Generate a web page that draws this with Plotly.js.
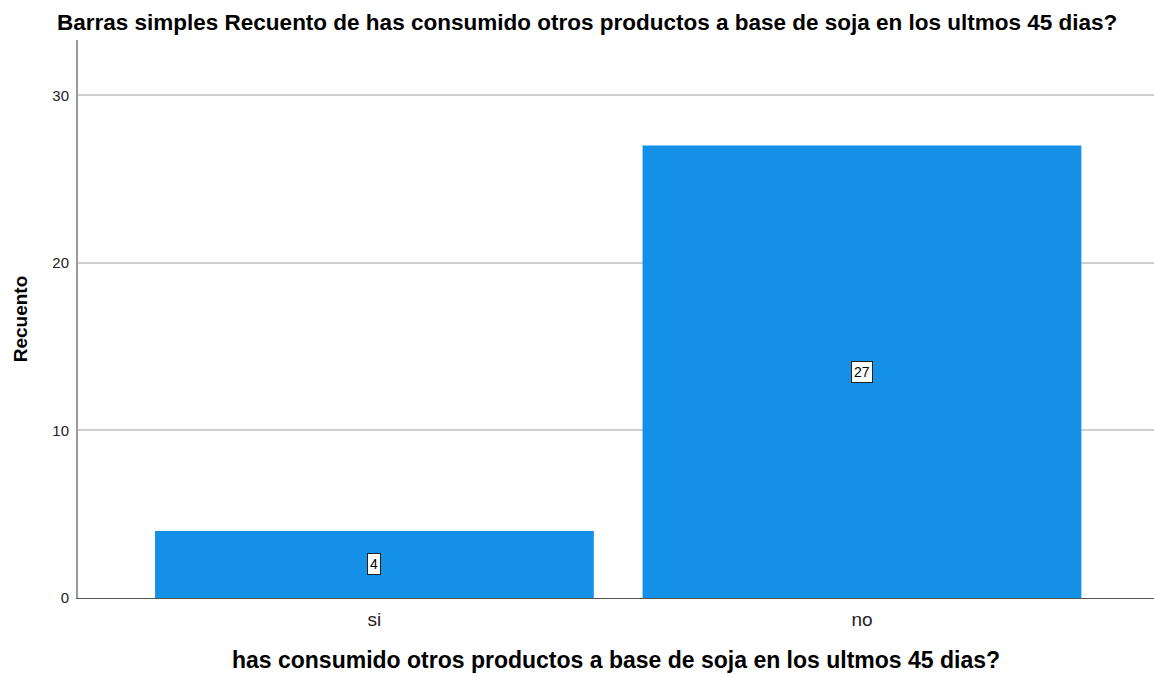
<!DOCTYPE html>
<html>
<head>
<meta charset="utf-8">
<script src="https://cdn.plot.ly/plotly-3.0.1.min.js"></script>
<style>html,body{margin:0;padding:0;background:#fff;}#chart{width:1154px;height:677px;}</style>
</head>
<body>
<div id="chart"></div>
<script>
const categories = ["si", "no"];
const counts = [4, 27];
const yTicks = [0, 10, 20, 30];

const trace = {
  type: "bar",
  x: [0, 1],
  y: counts,
  width: 0.9,
  marker: {color: "#1490E6", line: {width: 0}},
  hoverinfo: "x+y"
};

const annotations = counts.map((v, i) => ({
  x: i, y: v / 2, xref: "x", yref: "y",
  text: String(v), showarrow: false,
  font: {family: "Liberation Sans, Arial, sans-serif", size: 14, color: "#000"},
  bgcolor: "#ffffff", bordercolor: "#222", borderwidth: 1, borderpad: 2
}));

const layout = {
  width: 1154, height: 677,
  margin: {l: 78, r: 0, t: 40, b: 79},
  paper_bgcolor: "#fff", plot_bgcolor: "#fff",
  showlegend: false,
  font: {family: "Liberation Sans, Arial, sans-serif", color: "#000"},
  title: {
    text: "<b>Barras simples Recuento de has consumido otros productos a base de soja en los ultmos 45 dias?</b>",
    font: {size: 22.5, color: "#000"},
    x: 57 / 1154, xanchor: "left", xref: "container", y: 1 - 22 / 677, yanchor: "middle", yref: "container"
  },
  xaxis: {
    range: [-0.608, 1.599],
    tickvals: [0, 1], ticktext: categories,
    tickfont: {size: 19, color: "#222"},
    showgrid: false, zeroline: false,
    showline: true, linecolor: "#555", linewidth: 1,
    ticks: "", ticklen: 0, ticklabelstandoff: 4,
    title: {text: "<b>has consumido otros productos a base de soja en los ultmos 45 dias?</b>", font: {size: 23, color: "#000"}, standoff: 23}
  },
  yaxis: {
    range: [0, 33.3],
    tickvals: yTicks,
    tickfont: {size: 15, color: "#222"},
    showgrid: true, gridcolor: "#cfcfcf", gridwidth: 2,
    zeroline: false,
    showline: true, linecolor: "#999", linewidth: 2,
    ticks: "", ticklabelstandoff: 4,
    title: {text: "<b>Recuento</b>", font: {size: 19, color: "#000"}, standoff: 20}
  },
  annotations: annotations
};

Plotly.newPlot("chart", [trace], layout, {displayModeBar: false, staticPlot: true});
</script>
</body>
</html>
